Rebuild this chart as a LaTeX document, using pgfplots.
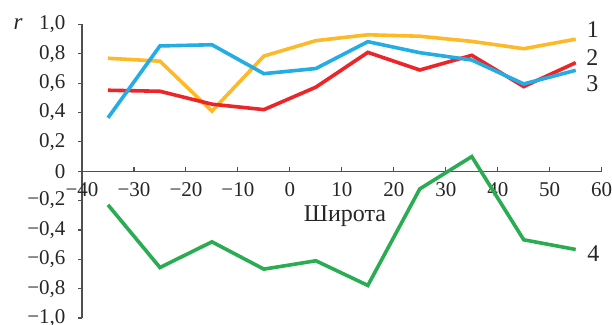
\documentclass[border=0pt]{standalone}
\usepackage{fontspec}
\setmainfont{Liberation Serif}
\usepackage{pgfplots}
\pgfplotsset{compat=1.18}

\definecolor{cyel}{RGB}{253,185,39}
\definecolor{cred}{RGB}{237,36,40}
\definecolor{cblu}{RGB}{36,172,228}
\definecolor{cgrn}{RGB}{42,172,82}
\definecolor{caxis}{RGB}{80,80,80}

\begin{document}
\begin{tikzpicture}[x=1pt,y=1pt]
\path[use as bounding box] (0,0) rectangle (612,324);
\begin{axis}[
  at={(82pt,6pt)}, anchor=south west,
  scale only axis, width=519.7pt, height=293.5pt,
  xmin=-40, xmax=60, ymin=-1, ymax=1,
  axis x line*=middle, axis y line*=left,
  hide obscured x ticks=false,
  axis line style={caxis, line width=1.1pt},
  tick style={caxis, line width=1.1pt},
  tick align=center, major tick length=4pt,
  xtick style={yshift=2pt}, ytick style={xshift=-2pt},
  xtick={-40,-30,...,60},
  xticklabels={{−40},{−30},{−20},{−10},{0},{10},{20},{30},{40},{50},{60}},
  ytick={-1,-0.8,...,1.01},
  yticklabels={{−1,0},{−0,8},{−0,6},{−0,4},{−0,2},{0},{0,2},{0,4},{0,6},{0,8},{1,0}},
  tick label style={font=\fontsize{21}{24}\selectfont, text=black!85},
  x tick label style={yshift=-6pt},
  y tick label style={xshift=-11pt},
  clip=false,
  every axis plot/.append style={line width=3.6pt, line join=miter, miter limit=3},
]
% 1
\addplot[cyel] coordinates {(-35,0.77) (-25,0.75) (-15,0.41) (-5,0.785) (5,0.89) (15,0.93) (25,0.92) (35,0.885) (45,0.835) (55,0.90)};
% 2
\addplot[cred] coordinates {(-35,0.552) (-25,0.545) (-15,0.457) (-5,0.42) (5,0.573) (15,0.81) (25,0.69) (35,0.79) (45,0.577) (55,0.74)};
% 3
\addplot[cblu] coordinates {(-35,0.364) (-25,0.854) (-15,0.862) (-5,0.665) (5,0.70) (15,0.883) (25,0.808) (35,0.758) (45,0.595) (55,0.688)};
% 4
\addplot[cgrn] coordinates {(-35,-0.229) (-25,-0.656) (-15,-0.481) (-5,-0.667) (5,-0.61) (15,-0.778) (25,-0.12) (35,0.10) (45,-0.467) (55,-0.533)};

\node[font=\fontsize{24}{26}\selectfont, text=black!85] at (axis cs:58.3,0.966) {1};
\node[font=\fontsize{24}{26}\selectfont, text=black!85] at (axis cs:58.2,0.776) {2};
\node[font=\fontsize{24}{26}\selectfont, text=black!85] at (axis cs:58.2,0.600) {3};
\node[font=\fontsize{24}{26}\selectfont, text=black!85] at (axis cs:58.4,-0.558) {4};
\node[font=\fontsize{24}{26}\selectfont, text=black!85] at (axis cs:10.6,-0.309) {Широта};
\end{axis}
\node[font=\itshape\fontsize{23}{26}\selectfont, text=black!85] at (18,300) {r};
\end{tikzpicture}
\end{document}
